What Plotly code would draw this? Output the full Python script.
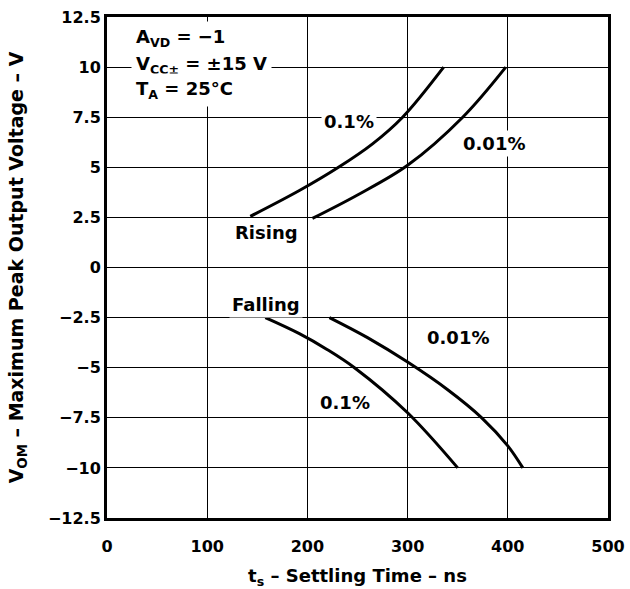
import plotly.graph_objects as go

# Rising curves
rise_01_t = [143, 192, 231, 265, 295, 336]
rise_01_v = [2.55, 3.84, 5.0, 6.17, 7.5, 10.0]
rise_001_t = [205, 250, 300, 355, 398]
rise_001_v = [2.45, 3.62, 5.1, 7.5, 10.0]
# Falling curves
fall_01_t = [158, 192, 220, 247, 300, 350]
fall_01_v = [-2.5, -3.3, -4.1, -5.0, -7.25, -10.0]
fall_001_t = [222, 260, 300, 340, 374, 400, 415]
fall_001_v = [-2.5, -3.5, -4.72, -6.1, -7.5, -8.9, -10.0]

x_ticks = [0, 100, 200, 300, 400, 500]
y_ticks = [12.5, 10, 7.5, 5, 2.5, 0, -2.5, -5, -7.5, -10, -12.5]
y_tick_text = ["12.5", "10", "7.5", "5", "2.5", "0", "−2.5", "−5", "−7.5", "−10", "−12.5"]

FONT = "DejaVu Sans"
fig = go.Figure()
for t, v in [(rise_01_t, rise_01_v), (rise_001_t, rise_001_v),
             (fall_01_t, fall_01_v), (fall_001_t, fall_001_v)]:
    fig.add_trace(go.Scatter(x=t, y=v, mode="lines", line=dict(color="black", width=3, shape="spline"),
                             showlegend=False, hoverinfo="skip"))

labels = [
    (159.5, 1.76, "Rising"),
    (158.5, -1.85, "Falling"),
    (242, 7.29, "0.1%"),
    (386, 6.17, "0.01%"),
    (350, -3.48, "0.01%"),
    (237.5, -6.75, "0.1%"),
]
for x, y, txt in labels:
    fig.add_annotation(x=x, y=y, text="<b>%s</b>" % txt, showarrow=False,
                       font=dict(family=FONT, size=18, color="black"),
                       bgcolor="white", borderpad=2)

cond_lines = [
    (11.45, "A<sub>VD</sub> = −1"),
    (10.12, "V<sub>CC±</sub> = ±15 V"),
    (8.88, "T<sub>A</sub> = 25°C"),
]
for y, txt in cond_lines:
    fig.add_annotation(x=24, y=y, xanchor="left", yanchor="middle", text="<b>%s</b>" % txt,
                       showarrow=False, font=dict(family=FONT, size=18, color="black"),
                       bgcolor="white", borderpad=4)

axis_common = dict(showgrid=True, gridcolor="black", gridwidth=1, zeroline=False,
                   showline=True, linecolor="black", linewidth=3, mirror=True, automargin=False,
                   ticklabeloverflow="allow",
                   tickfont=dict(family=FONT, size=16, color="black"))
fig.update_xaxes(range=[0, 500], tickvals=x_ticks, ticktext=["<b>%d</b>" % v for v in x_ticks],
                 ticks="outside", ticklen=12, tickcolor="rgba(0,0,0,0)",
                 title=dict(text="<b>t<sub>s</sub> – Settling Time – ns</b>",
                            font=dict(family=FONT, size=18, color="black"), standoff=24),
                 **axis_common)
fig.update_yaxes(range=[-12.5, 12.5], tickvals=y_ticks, ticktext=["<b>%s</b>" % s for s in y_tick_text],
                 ticks="",
                 title=dict(text="<b>V<sub>OM</sub> – Maximum Peak Output Voltage – V</b>",
                            font=dict(family=FONT, size=19, color="black"), standoff=20),
                 **axis_common)
fig.update_layout(width=630, height=589, margin=dict(l=107, r=22, t=17, b=71),
                  plot_bgcolor="white", paper_bgcolor="white")
fig.write_html("out.html", config={"displayModeBar": False},
               post_script="document.body.style.margin='0';")
